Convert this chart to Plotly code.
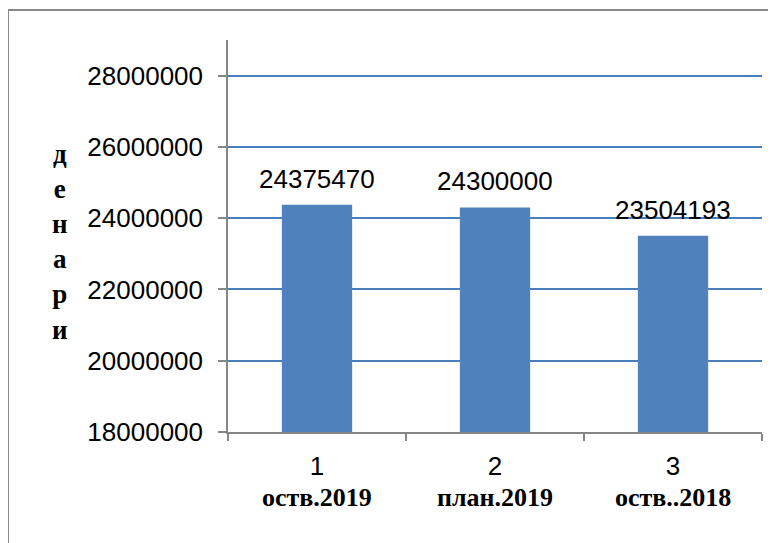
import plotly.graph_objects as go

categories = ["1", "2", "3"]
category_names = ["оств.2019", "план.2019", "оств..2018"]
values = [24375470, 24300000, 23504193]
y_title = "денари"

fig = go.Figure()
fig.add_trace(go.Bar(
    x=categories, y=values,
    marker=dict(color="#4f81bd", line=dict(width=0)),
    width=0.395,
    hoverinfo="skip",
))

# value labels above bars
for i, v in enumerate(values):
    fig.add_annotation(x=i, y=v, xref="x", yref="y", text=str(v),
                       showarrow=False, yshift=26,
                       font=dict(family="Liberation Sans, Arial", size=26, color="#000"))

# category names (second line of x labels)
for i, n in enumerate(category_names):
    fig.add_annotation(x=i, y=0, xref="x", yref="paper", text="<b>" + n + "</b>",
                       showarrow=False, yshift=-65, yanchor="middle",
                       font=dict(family="Liberation Serif, Times New Roman", size=26, color="#000"))

# vertical stacked axis title
fig.add_annotation(x=-0.315, y=0.485, xref="paper", yref="paper",
                   text="<br>".join("<b>" + ch + "</b>" for ch in y_title),
                   showarrow=False, xanchor="center", yanchor="middle",
                   font=dict(family="Liberation Serif, Times New Roman", size=27, color="#000"))

# chart frame (left & top visible)
fig.add_shape(type="rect", xref="paper", yref="paper",
              x0=-0.412, x1=1.2, y0=-0.5, y1=1.0765,
              line=dict(color="#898989", width=2), fillcolor="rgba(0,0,0,0)", layer="below")

fig.update_layout(
    width=776, height=543,
    margin=dict(l=220, r=22, t=32, b=119),
    paper_bgcolor="white", plot_bgcolor="white",
    showlegend=False,
    font=dict(family="Liberation Sans, Arial", size=26, color="#000"),
)
fig.update_xaxes(
    type="category", tickson="boundaries", range=[-0.5, 2.5],
    showline=True, linecolor="#868686", linewidth=1.5,
    ticks="outside", ticklen=7, tickcolor="#868686", tickwidth=1.5,
    showgrid=False, ticklabelstandoff=10,
    tickfont=dict(family="Liberation Sans, Arial", size=26, color="#000"),
)
fig.update_yaxes(
    range=[18000000, 29000000], dtick=2000000, tick0=18000000, tickformat="d",
    showline=True, linecolor="#868686", linewidth=1.5,
    ticks="outside", ticklen=8, tickcolor="#868686", tickwidth=1.5,
    showgrid=True, gridcolor="#4a7ebb", gridwidth=1.5, zeroline=False,
    ticklabelstandoff=10,
    tickfont=dict(family="Liberation Sans, Arial", size=26, color="#000"),
)

fig.write_html("out.html")
